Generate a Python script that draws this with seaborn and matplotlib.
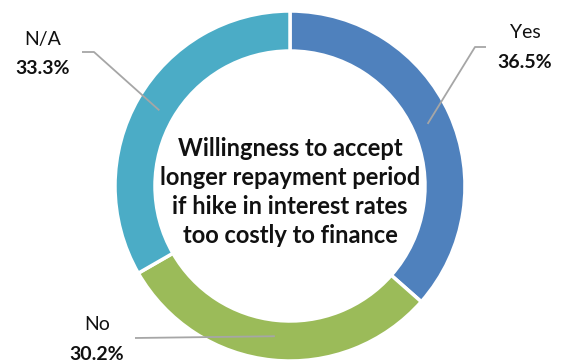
import numpy as np
import matplotlib
matplotlib.use("Agg")
import matplotlib.pyplot as plt
import seaborn as sns

# Survey answers, drawn clockwise from 12 o'clock
categories = ["Yes", "No", "N/A"]
shares = [36.5, 30.2, 33.3]
pct_labels = ["36.5%", "30.2%", "33.3%"]
title_text = ("Willingness to accept\nlonger repayment period\n"
              "if hike in interest rates\ntoo costly to finance")

sns.set_theme(style="white")
plt.rcParams["font.family"] = ["Lato", "DejaVu Sans"]
palette = sns.color_palette(["#4F81BD", "#9BBB59", "#4BACC6"])

W, H = 568, 363
fig = plt.figure(figsize=(W / 100, H / 100), dpi=100)
ax = fig.add_axes([0, 0, 1, 1])

cx, cy, R, ring = 290, 177, 175, 40
wedges, _ = ax.pie(shares, colors=palette, startangle=90, counterclock=False,
                   center=(cx, cy), radius=R,
                   wedgeprops=dict(width=ring, edgecolor="white", linewidth=2.5))
ax.set_xlim(0, W)
ax.set_ylim(0, H)
ax.set_aspect("equal")
ax.axis("off")

# label placement: (name xy, percent xy, leader path after the ring anchor)
layout = {
    "Yes": ((525, 330), (525, 300), [(475, 316), (486, 316)]),
    "No": ((97, 38), (97, 9), [(135, 25)]),
    "N/A": ((43, 323), (43, 295), [(94, 311), (82, 311)]),
}

line_col = "#A6A6A6"
for w, cat, pct in zip(wedges, categories, pct_labels):
    mid = np.deg2rad((w.theta1 + w.theta2) / 2)
    rm = R - ring / 2 - 4
    anchor = (cx + rm * np.cos(mid), cy + rm * np.sin(mid))
    name_xy, pct_xy, path = layout[cat]
    pts = [anchor] + path
    ax.plot([p[0] for p in pts], [p[1] for p in pts], color=line_col, lw=1.3,
            solid_capstyle="butt", zorder=3)
    ax.text(*name_xy, cat, ha="center", va="center", fontsize=14, color="#111111")
    ax.text(*pct_xy, pct, ha="center", va="center", fontsize=14,
            fontweight="bold", color="#111111")

ax.text(cx, 171, title_text, ha="center", va="center", fontsize=17,
        fontweight="bold", color="#111111", linespacing=1.3)

fig.savefig("out.png", dpi=100, facecolor="white")
